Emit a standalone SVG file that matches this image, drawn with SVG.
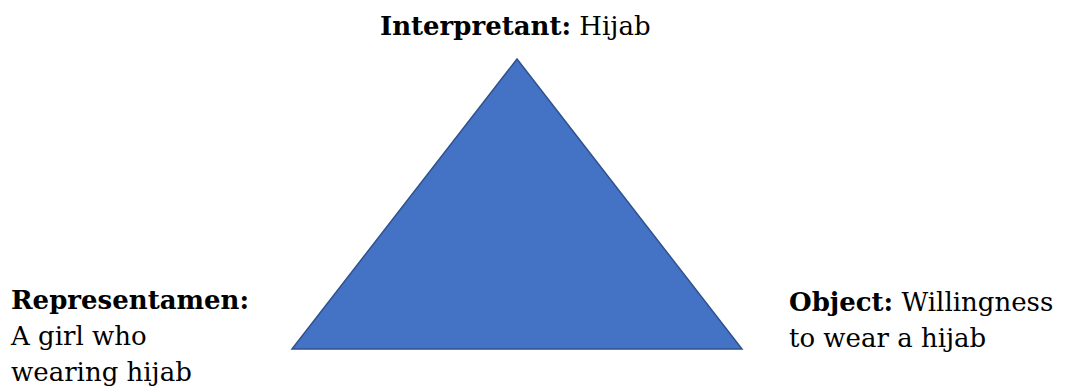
<svg xmlns="http://www.w3.org/2000/svg" width="1067" height="389" viewBox="0 0 1067 389">
<style>
text{font-family:"DejaVu Serif","Liberation Serif",serif;font-size:26px;fill:#000}
.b{font-weight:bold}
.tri{fill:#4472C4;stroke:#2F528F;stroke-width:1.5}
</style>
<rect width="1067" height="389" fill="#fff"/>
<g id="triangle"><polygon class="tri" points="517,59 292,349 742,349"/></g>
<g id="connectors"></g>
<g id="interpretant"><text x="380" y="35"><tspan class="b">Interpretant:</tspan> Hijab</text></g>
<g id="representamen"><text x="11" y="309"><tspan class="b">Representamen:</tspan></text><text x="11" y="345">A girl who</text><text x="11" y="381">wearing hijab</text></g>
<g id="object"><text x="789" y="311"><tspan class="b">Object:</tspan> Willingness</text><text x="789" y="347">to wear a hijab</text></g>
</svg>
